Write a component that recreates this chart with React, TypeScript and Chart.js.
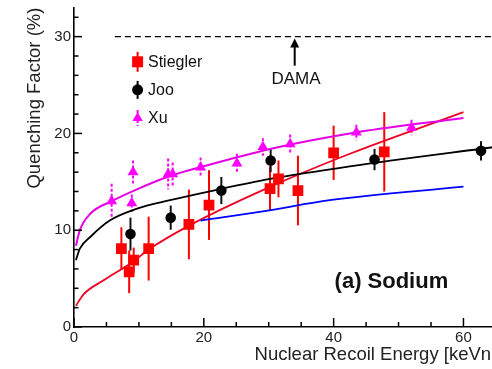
import React, { useEffect, useRef } from "react";
import { Chart, registerables } from "chart.js";

Chart.register(...registerables);

// ---- Data ----
const stieglerE = [7.3, 8.5, 9.2, 11.5, 17.7, 20.8, 30.2, 31.5, 34.5, 40.0, 47.8];
const stieglerQ = [8.1, 5.7, 6.9, 8.1, 10.6, 12.6, 14.3, 15.3, 14.1, 18.0, 18.1];
const stieglerErr = [2.2, 2.2, 1.3, 3.3, 3.6, 3.6, 2.3, 1.9, 3.6, 2.8, 4.1];

const jooE = [8.7, 14.9, 22.7, 30.3, 46.3, 62.7];
const jooQ = [9.6, 11.3, 14.1, 17.2, 17.3, 18.2];
const jooErr = [1.7, 1.25, 1.4, 1.2, 1.1, 1.0];

const xuE = [5.8, 8.9, 9.1, 14.5, 15.2, 19.5, 25.1, 29.1, 33.3, 43.5, 52.0];
const xuQ = [13.0, 12.8, 16.0, 15.8, 15.8, 16.5, 16.9, 18.6, 18.9, 20.1, 20.6];
const xuErr = [1.8, 0.9, 1.2, 1.6, 1.2, 1.0, 1.0, 0.9, 1.0, 0.8, 0.8];

const magentaFitE = [0.3, 0.9, 2.5, 5.8, 9.6, 14.8, 19.4, 30.2, 42.5, 60];
const magentaFitQ = [8.4, 10.0, 11.7, 13.0, 14.2, 15.6, 16.5, 18.4, 20.0, 21.6];

const blackFitE = [0.3, 0.9, 2.5, 5.5, 9.6, 14.8, 21.5, 30.2, 42.5, 66];
const blackFitQ = [6.9, 8.1, 9.3, 11.0, 12.2, 13.1, 14.1, 15.3, 16.6, 18.7];

const redFitE = [0.3, 1.5, 4.5, 9.2, 11.5, 17.8, 29.6, 42.5, 60];
const redFitQ = [2.2, 3.4, 4.8, 6.8, 8.0, 10.5, 14.3, 17.9, 22.2];

const blueFitE = [19.5, 29.6, 39.4, 60];
const blueFitQ = [11.0, 12.0, 13.1, 14.5];

const xTickLabels = [0, 20, 40, 60];
const yTickLabels = [0, 10, 20, 30];
const damaLevel = 30;
const damaArrowE = 34;

const FONT = "'Liberation Sans', Arial, Helvetica, sans-serif";

const pts = (xs: number[], ys: number[]) => xs.map((x, i) => ({ x, y: ys[i] }));

export default function App() {
  const ref = useRef<HTMLCanvasElement>(null);

  useEffect(() => {
    const canvas = ref.current!;

    const extras = {
      id: "extras",
      beforeDatasetsDraw(chart: any) {
        const ctx = chart.ctx;
        const ys = chart.scales.y;
        ctx.save();
        chart.data.datasets.forEach((ds: any, i: number) => {
          if (!ds.errors) return;
          const meta = chart.getDatasetMeta(i);
          ctx.strokeStyle = ds.errColor;
          ctx.lineWidth = 2;
          ctx.setLineDash(ds.errDash || []);
          meta.data.forEach((el: any, j: number) => {
            const v = ds.data[j].y;
            const e = ds.errors[j];
            ctx.beginPath();
            ctx.moveTo(el.x, ys.getPixelForValue(v + e));
            ctx.lineTo(el.x, ys.getPixelForValue(v - e));
            ctx.stroke();
          });
        });
        ctx.restore();
      },
      afterDraw(chart: any) {
        const ctx = chart.ctx;
        const xs = chart.scales.x;
        const ys = chart.scales.y;
        const { left, right, bottom } = chart.chartArea;
        ctx.save();

        // inward ticks
        ctx.strokeStyle = "#000";
        ctx.lineWidth = 1.5;
        ctx.setLineDash([]);
        for (let v = 0; v <= xs.max + 1e-9; v += 5) {
          const px = xs.getPixelForValue(v);
          const len = v % 20 === 0 ? 9 : 5;
          ctx.beginPath();
          ctx.moveTo(px, bottom);
          ctx.lineTo(px, bottom - len);
          ctx.stroke();
        }
        for (let v = 0; v <= ys.max + 1e-9; v += 2) {
          const py = ys.getPixelForValue(v);
          const len = v % 10 === 0 ? 8 : 4.5;
          ctx.beginPath();
          ctx.moveTo(left, py);
          ctx.lineTo(left + len, py);
          ctx.stroke();
        }

        // DAMA dashed line
        const dy = ys.getPixelForValue(damaLevel);
        ctx.strokeStyle = "#000";
        ctx.lineWidth = 1.3;
        ctx.setLineDash([6, 4]);
        ctx.beginPath();
        ctx.moveTo(xs.getPixelForValue(6.3), dy);
        ctx.lineTo(right, dy);
        ctx.stroke();
        ctx.setLineDash([]);

        // arrow
        const ax = xs.getPixelForValue(damaArrowE);
        const aTop = ys.getPixelForValue(29.8);
        const aBot = ys.getPixelForValue(27.0);
        ctx.lineWidth = 2;
        ctx.beginPath();
        ctx.moveTo(ax, aBot);
        ctx.lineTo(ax, aTop + 6);
        ctx.stroke();
        ctx.fillStyle = "#000";
        ctx.beginPath();
        ctx.moveTo(ax, aTop);
        ctx.lineTo(ax - 4.5, aTop + 9);
        ctx.lineTo(ax + 4.5, aTop + 9);
        ctx.closePath();
        ctx.fill();

        ctx.fillStyle = "#111";
        ctx.font = `17px ${FONT}`;
        ctx.textAlign = "center";
        ctx.textBaseline = "middle";
        ctx.fillText("DAMA", xs.getPixelForValue(34.2), ys.getPixelForValue(25.6));

        ctx.font = `bold 22px ${FONT}`;
        ctx.fillText("(a) Sodium", xs.getPixelForValue(48.9), ys.getPixelForValue(4.7));

        // legend
        const lx = xs.getPixelForValue(9.8);
        const tx = xs.getPixelForValue(11.4);
        const rows = [
          { q: 27.4, label: "Stiegler", color: "#ff0000", style: "rect", bar: 10, dash: [] as number[] },
          { q: 24.5, label: "Joo", color: "#000000", style: "circle", bar: 9, dash: [] as number[] },
          { q: 21.6, label: "Xu", color: "#ff00ff", style: "triangle", bar: 8, dash: [3, 2] },
        ];
        ctx.font = `16px ${FONT}`;
        ctx.textAlign = "left";
        rows.forEach((r) => {
          const py = ys.getPixelForValue(r.q);
          ctx.strokeStyle = r.color;
          ctx.lineWidth = 2;
          ctx.setLineDash(r.dash);
          ctx.beginPath();
          ctx.moveTo(lx, py - r.bar);
          ctx.lineTo(lx, py + r.bar);
          ctx.stroke();
          ctx.setLineDash([]);
          ctx.fillStyle = r.color;
          ctx.beginPath();
          if (r.style === "rect") {
            ctx.rect(lx - 5.5, py - 5.5, 11, 11);
          } else if (r.style === "circle") {
            ctx.arc(lx, py, 5.5, 0, Math.PI * 2);
          } else {
            ctx.moveTo(lx, py - 6);
            ctx.lineTo(lx + 5.2, py + 3);
            ctx.lineTo(lx - 5.2, py + 3);
            ctx.closePath();
          }
          ctx.fill();
          ctx.fillStyle = "#111";
          ctx.fillText(r.label, tx, py + 1);
        });
        ctx.restore();
      },
    };

    const chart = new Chart(canvas, {
      type: "scatter",
      data: {
        datasets: [
          {
            label: "Stiegler",
            data: pts(stieglerE, stieglerQ),
            pointStyle: "rect",
            pointRadius: 7.6,
            backgroundColor: "#ff0000",
            borderColor: "#ff0000",
            borderWidth: 0,
            errors: stieglerErr,
            errColor: "#ff0000",
          } as any,
          {
            label: "Joo",
            data: pts(jooE, jooQ),
            pointStyle: "circle",
            pointRadius: 5.3,
            backgroundColor: "#000000",
            borderColor: "#000000",
            borderWidth: 0,
            errors: jooErr,
            errColor: "#111111",
          } as any,
          {
            label: "Xu",
            data: pts(xuE, xuQ),
            pointStyle: "triangle",
            pointRadius: 6.3,
            backgroundColor: "#ff00ff",
            borderColor: "#ff00ff",
            borderWidth: 0,
            errors: xuErr,
            errColor: "#ff00ff",
            errDash: [3, 2],
          } as any,
          {
            label: "fitMagenta",
            data: pts(magentaFitE, magentaFitQ),
            showLine: true,
            pointRadius: 0,
            borderColor: "#e600e6",
            borderWidth: 2,
            cubicInterpolationMode: "monotone",
          } as any,
          {
            label: "fitBlack",
            data: pts(blackFitE, blackFitQ),
            showLine: true,
            pointRadius: 0,
            borderColor: "#000000",
            borderWidth: 1.8,
            cubicInterpolationMode: "monotone",
          } as any,
          {
            label: "fitBlue",
            data: pts(blueFitE, blueFitQ),
            showLine: true,
            pointRadius: 0,
            borderColor: "#0000ff",
            borderWidth: 1.8,
            cubicInterpolationMode: "monotone",
          } as any,
          {
            label: "fitRed",
            data: pts(redFitE, redFitQ),
            showLine: true,
            pointRadius: 0,
            borderColor: "#ee0022",
            borderWidth: 1.8,
            cubicInterpolationMode: "monotone",
          } as any,
        ],
      },
      options: {
        animation: false,
        responsive: false,
        devicePixelRatio: 1,
        layout: { padding: { top: 7, right: 7, left: 0, bottom: 0 } },
        plugins: { legend: { display: false }, tooltip: { enabled: false } },
        scales: {
          x: {
            type: "linear",
            position: "bottom",
            min: 0,
            max: 66,
            afterFit: (s: any) => {
              s.height = 42;
              s.paddingLeft = 0;
              s.paddingRight = 0;
            },
            afterBuildTicks: (s: any) => {
              s.ticks = xTickLabels.map((v) => ({ value: v }));
            },
            grid: { display: false, drawTicks: false },
            border: { display: true, color: "#000", width: 1.6 },
            ticks: {
              autoSkip: false,
              maxRotation: 0,
              padding: 2,
              color: "#222",
              font: { family: FONT, size: 15 },
            },
            title: {
              display: true,
              text: "Nuclear Recoil Energy [keVnr]",
              align: "end",
              color: "#222",
              font: { family: FONT, size: 18.5 },
              padding: { top: 0, bottom: 3 },
            },
          },
          y: {
            type: "linear",
            position: "left",
            min: 0,
            max: 33,
            afterFit: (s: any) => {
              s.width = 74;
              s.paddingTop = 0;
              s.paddingBottom = 0;
            },
            afterBuildTicks: (s: any) => {
              s.ticks = yTickLabels.map((v) => ({ value: v }));
            },
            grid: { display: false, drawTicks: false },
            border: { display: true, color: "#000", width: 1.6 },
            ticks: {
              autoSkip: false,
              padding: 3,
              color: "#222",
              font: { family: FONT, size: 15 },
            },
            title: {
              display: true,
              text: "Quenching Factor (%)",
              align: "end",
              color: "#222",
              font: { family: FONT, size: 18.5 },
              padding: { top: 24, bottom: 0 },
            },
          },
        },
      },
      plugins: [extras],
    });

    return () => chart.destroy();
  }, []);

  return (
    <div
      style={{
        position: "absolute",
        left: 0,
        top: 0,
        width: 492,
        height: 369,
        overflow: "hidden",
        background: "#fff",
      }}
    >
      <canvas ref={ref} width={510} height={369} style={{ display: "block", width: 510, height: 369 }} />
    </div>
  );
}
